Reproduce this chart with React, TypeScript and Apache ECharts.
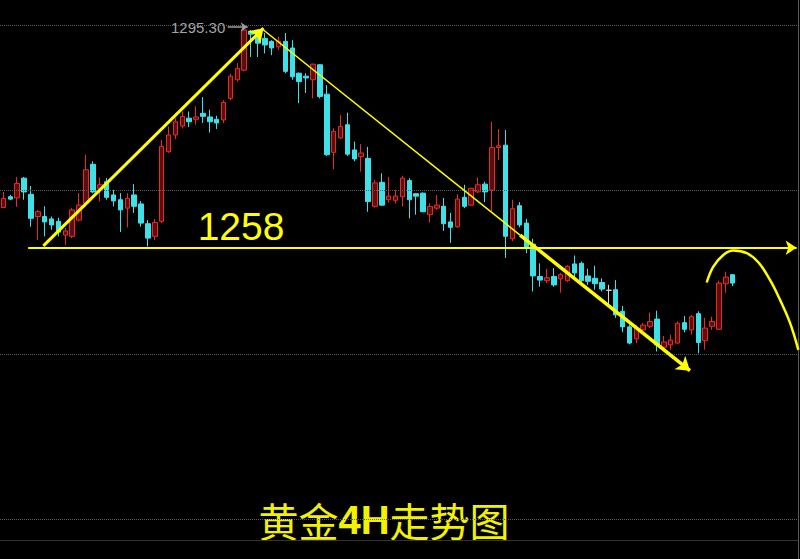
import React, { useEffect, useRef } from "react";
import * as echarts from "echarts";

// 4H candles: [open, close, low, high]
const candles: number[][] = [
  [1265.4, 1266.9, 1265.3, 1268.0], [1267.2, 1266.8, 1266.7, 1267.5], [1267.0, 1269.4, 1265.5, 1270.5],
  [1270.3, 1268.0, 1266.7, 1270.5], [1267.6, 1263.6, 1262.2, 1269.0], [1263.9, 1264.7, 1260.0, 1265.0],
  [1263.9, 1263.0, 1260.6, 1265.6], [1263.5, 1262.5, 1261.7, 1263.9], [1263.1, 1261.3, 1260.6, 1263.7],
  [1260.8, 1261.5, 1259.2, 1262.0], [1260.6, 1265.0, 1260.3, 1265.3], [1263.3, 1265.8, 1263.1, 1267.8],
  [1266.1, 1271.7, 1265.6, 1274.2], [1272.6, 1268.0, 1267.8, 1273.1], [1268.6, 1269.2, 1266.4, 1270.4],
  [1269.7, 1267.1, 1266.7, 1270.3], [1267.5, 1266.5, 1265.6, 1268.3], [1266.7, 1265.0, 1261.3, 1267.8],
  [1265.3, 1266.9, 1262.1, 1267.8], [1267.5, 1265.6, 1264.5, 1269.3], [1266.0, 1262.8, 1262.2, 1266.5],
  [1262.7, 1260.3, 1258.9, 1263.3], [1260.6, 1262.9, 1260.0, 1263.5], [1263.1, 1275.6, 1262.8, 1276.7],
  [1274.7, 1277.5, 1274.5, 1278.9], [1277.5, 1279.7, 1276.8, 1280.3], [1279.0, 1280.6, 1278.6, 1281.4],
  [1280.3, 1279.7, 1278.8, 1281.4], [1280.1, 1280.5, 1279.2, 1282.3], [1281.1, 1280.6, 1279.5, 1283.8],
  [1280.5, 1279.7, 1277.9, 1281.7], [1280.1, 1279.5, 1278.5, 1280.7], [1280.0, 1282.9, 1279.5, 1283.3],
  [1283.6, 1287.3, 1283.3, 1287.7], [1286.7, 1288.6, 1286.4, 1289.5], [1288.3, 1295.0, 1288.1, 1295.3],
  [1294.8, 1294.3, 1290.5, 1295.0], [1294.2, 1292.8, 1290.5, 1294.9], [1293.6, 1292.5, 1291.1, 1294.5],
  [1293.1, 1292.0, 1290.8, 1293.3], [1292.2, 1293.1, 1291.7, 1293.9], [1293.1, 1288.1, 1287.8, 1294.5],
  [1292.0, 1287.2, 1286.7, 1293.3], [1287.8, 1286.4, 1282.8, 1287.9], [1287.3, 1287.0, 1284.5, 1287.8],
  [1286.7, 1289.3, 1283.6, 1289.4], [1289.2, 1283.9, 1283.6, 1289.3], [1284.3, 1274.2, 1274.0, 1285.8],
  [1274.6, 1278.1, 1271.8, 1278.6], [1277.0, 1278.9, 1276.8, 1280.8], [1279.2, 1274.3, 1274.0, 1281.2],
  [1275.0, 1273.5, 1273.1, 1276.4], [1273.9, 1274.5, 1271.4, 1276.0], [1273.6, 1266.4, 1264.7, 1275.5],
  [1265.6, 1269.5, 1265.4, 1270.0], [1269.6, 1265.8, 1265.7, 1271.1], [1266.7, 1267.3, 1266.2, 1270.5],
  [1266.6, 1267.3, 1266.1, 1268.3], [1267.2, 1270.3, 1265.6, 1270.7], [1269.9, 1266.7, 1263.6, 1270.3],
  [1267.7, 1267.3, 1264.2, 1267.8], [1267.8, 1264.7, 1264.6, 1267.9], [1264.2, 1265.6, 1262.9, 1266.1],
  [1265.3, 1265.8, 1265.0, 1267.5], [1265.6, 1262.7, 1261.5, 1267.0], [1263.0, 1262.1, 1259.5, 1264.5],
  [1262.2, 1266.8, 1262.0, 1267.6], [1267.1, 1265.6, 1265.3, 1269.2], [1265.8, 1268.6, 1265.7, 1268.7],
  [1268.0, 1269.2, 1267.8, 1270.4], [1269.3, 1268.0, 1266.3, 1269.7], [1268.3, 1275.4, 1264.7, 1279.7],
  [1275.4, 1275.7, 1273.3, 1278.5], [1275.8, 1260.6, 1257.0, 1278.3], [1260.2, 1265.2, 1259.8, 1266.7],
  [1265.7, 1262.5, 1262.1, 1266.3], [1262.8, 1258.7, 1257.8, 1263.5], [1259.3, 1254.0, 1251.4, 1260.2],
  [1253.9, 1253.3, 1252.2, 1256.1], [1253.2, 1253.7, 1252.8, 1255.2], [1253.9, 1252.5, 1252.2, 1255.3],
  [1253.5, 1254.2, 1251.2, 1254.5], [1253.2, 1255.6, 1253.0, 1255.8], [1256.0, 1254.5, 1253.8, 1257.4],
  [1256.1, 1253.2, 1252.8, 1256.4], [1254.0, 1253.1, 1252.5, 1255.2], [1253.6, 1252.7, 1251.7, 1255.7],
  [1252.9, 1251.8, 1251.4, 1253.6], [1251.6, 1251.6, 1249.3, 1252.5], [1251.7, 1247.5, 1247.0, 1253.3],
  [1248.1, 1245.5, 1244.6, 1249.0], [1245.5, 1242.8, 1242.6, 1245.8], [1243.5, 1245.3, 1242.8, 1245.8],
  [1245.0, 1245.8, 1244.5, 1246.2], [1245.6, 1246.4, 1245.3, 1247.9], [1246.8, 1242.5, 1241.4, 1248.2],
  [1242.1, 1243.0, 1241.7, 1244.0], [1242.5, 1243.3, 1241.7, 1244.2], [1242.8, 1246.1, 1242.7, 1246.4],
  [1246.2, 1245.1, 1244.6, 1247.3], [1245.0, 1247.2, 1244.2, 1247.5], [1247.7, 1242.9, 1241.1, 1248.1],
  [1243.2, 1245.3, 1241.7, 1247.0], [1245.6, 1246.4, 1245.0, 1247.2], [1245.1, 1252.8, 1245.0, 1253.2],
  [1252.7, 1253.8, 1251.2, 1254.7], [1254.2, 1252.8, 1252.3, 1254.3],
];

const BAR_SLOTS = 116;
const categories: string[] = Array.from({ length: BAR_SLOTS }, (_, i) => `K${i + 1}`);

// MT4-style grid levels (price)
const gridLevels = [1295.8, 1268.3, 1241.0, 1213.5];
const bottomBorderLevel = 1210.0;

// Hand-drawn annotations in (bar index, price)
const riseLine = [[5.8, 1259.0], [37.8, 1295.3]];
const fallThin = [[37.8, 1295.0], [75.1, 1260.8]];
const fallThick = [[75.1, 1260.8], [99.8, 1238.2]];
const supportLine = [[3.6, 1258.7], [115.3, 1258.7]];
const peakPointer = [[32.6, 1295.5], [35.5, 1295.5]];
const arcPoints = [
  [102.23, 1252.9], [103.19, 1255.55], [104.65, 1257.5], [106.1, 1258.22], [108.05, 1257.78],
  [109.73, 1256.28], [111.43, 1253.33], [112.89, 1250.0], [114.34, 1246.17], [115.55, 1241.67],
];

const maxLabel = "1295.30";
const levelLabel = "1258";
const titleText = "{a|黄金}{b|4H}{a|走势图}";

const YELLOW = "#ffff00";

function seg(points: number[][], width: number, arrow: boolean, color = YELLOW, size = 12) {
  return [
    { coord: points[0], symbol: "none", lineStyle: { color, width, type: "solid" } },
    { coord: points[1], symbol: arrow ? "arrow" : "none", symbolSize: size },
  ];
}

export default function App() {
  const ref = useRef<HTMLDivElement>(null);
  useEffect(() => {
    if (!ref.current) return;
    const chart = echarts.init(ref.current, undefined, { renderer: "svg" });
    chart.setOption({
      animation: false,
      backgroundColor: "#000000",
      grid: { left: 0, right: 2, top: 0, bottom: 0 },
      xAxis: [
        { type: "category", data: categories, show: false, boundaryGap: true },
        { type: "value", min: -0.5, max: BAR_SLOTS - 0.5, show: false },
      ],
      yAxis: {
        type: "value",
        min: 1206.8,
        max: 1300,
        position: "right",
        axisLine: { show: true, onZero: false, lineStyle: { color: "#5a5a5a", width: 1 } },
        axisTick: { show: false },
        axisLabel: { show: false },
        splitLine: { show: false },
      },
      series: [
        {
          type: "candlestick",
          xAxisIndex: 0,
          data: candles,
          barWidth: 5,
          itemStyle: {
            color: "#5a0e0e",
            color0: "#3fe0e8",
            borderColor: "#e82a2a",
            borderColor0: "#3fe0e8",
            borderColorDoji: "#d8d8d8",
            borderWidth: 1,
          },
          markLine: {
            silent: true,
            symbol: ["none", "none"],
            label: { show: false },
            lineStyle: { type: "dotted", color: "#5e5e5e", width: 1 },
            data: [
              ...gridLevels.map((v) => ({ yAxis: v })),
              { yAxis: bottomBorderLevel, lineStyle: { type: "solid", color: "#333333", width: 1 } },
            ],
          },
        },
        {
          type: "line",
          xAxisIndex: 1,
          data: arcPoints,
          smooth: 0.4,
          showSymbol: false,
          clip: false,
          silent: true,
          lineStyle: { color: YELLOW, width: 2.5 },
          markLine: {
            silent: true,
            label: { show: false },
            symbolSize: 12,
            data: [
              seg(supportLine, 2, true, YELLOW, 11),
              seg(riseLine, 3, true, YELLOW, 13),
              seg(fallThin, 1.5, false),
              seg(fallThick, 3.5, true, YELLOW, 13),
              seg(peakPointer, 1.5, true, "#9c9c9c", 7),
            ],
          },
        },
      ],
      graphic: [
        {
          type: "text",
          x: 171,
          y: 27,
          style: {
            text: maxLabel,
            fill: "#a4a4a4",
            font: '15px "Liberation Sans", Arial, sans-serif',
            align: "left",
            verticalAlign: "middle",
          },
        },
        {
          type: "text",
          x: 241,
          y: 226,
          style: {
            text: levelLabel,
            fill: YELLOW,
            font: '39px "Liberation Sans", Arial, sans-serif',
            align: "center",
            verticalAlign: "middle",
          },
        },
        {
          type: "text",
          x: 384,
          y: 520,
          style: {
            text: titleText,
            align: "center",
            verticalAlign: "middle",
            rich: {
              a: { fill: "#f2f200", fontSize: 40, fontFamily: '"Noto Sans CJK SC", sans-serif' },
              b: { fill: "#f2f200", fontSize: 40, fontWeight: "bold", fontFamily: '"Liberation Sans", Arial, sans-serif' },
            },
          },
        },
      ],
    });
    return () => chart.dispose();
  }, []);
  return (
    <div
      ref={ref}
      style={{ position: "fixed", left: 0, top: 0, width: 800, height: 559, background: "#000" }}
    />
  );
}
